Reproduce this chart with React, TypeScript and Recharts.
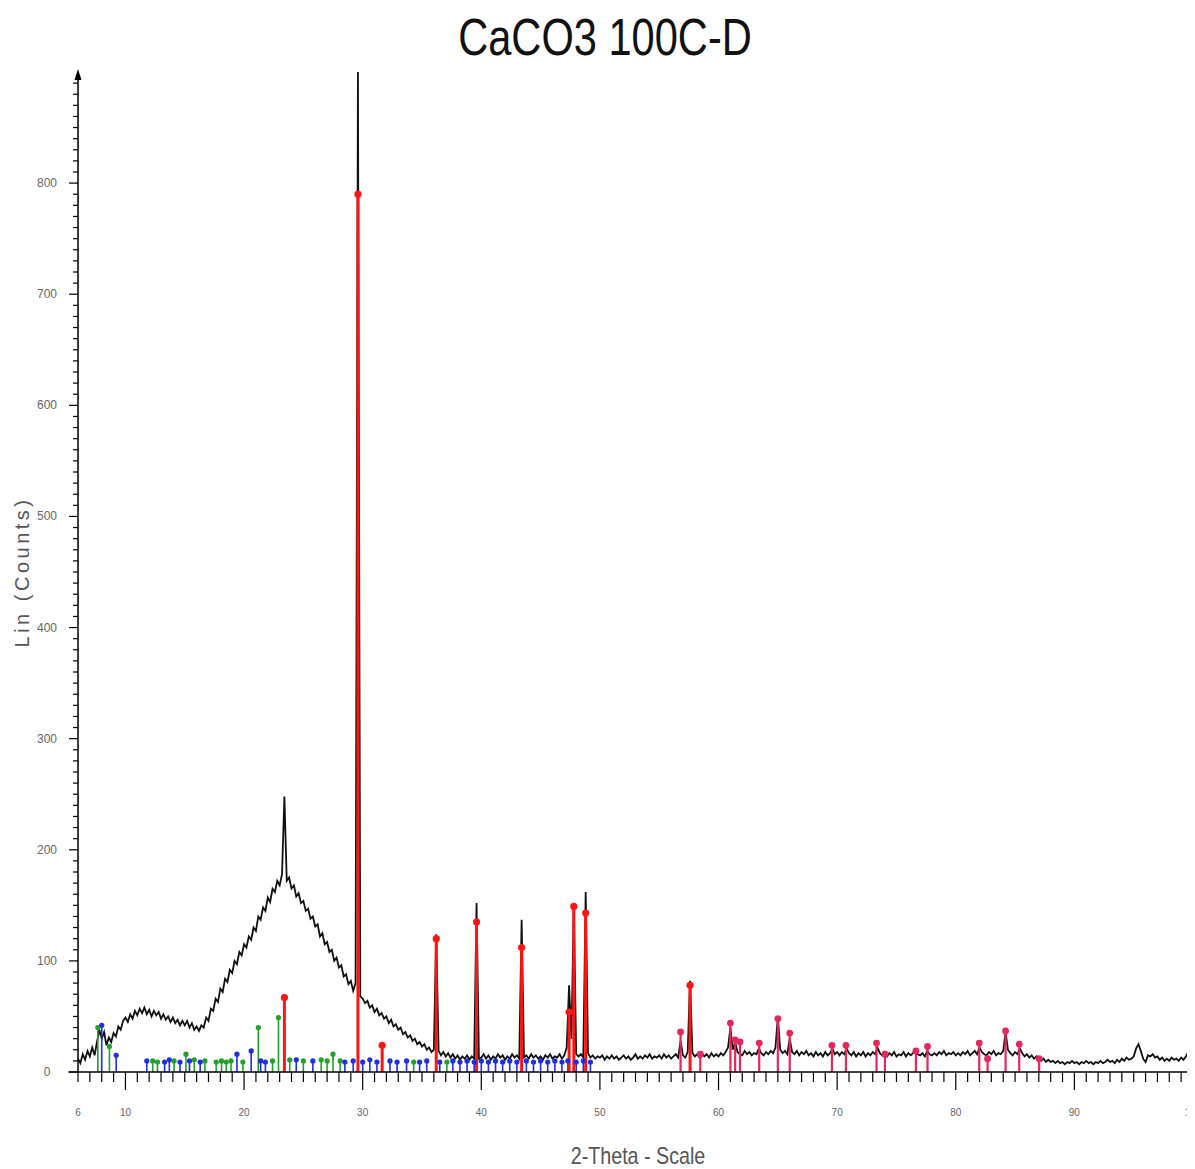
import React from "react";
import { ComposedChart, Line, Scatter, XAxis, YAxis, ReferenceLine, ReferenceDot } from "recharts";

// measured scan, 2-theta grid every 0.2 deg starting at 6.0
const scanStart = 6;
const scanStep = 0.2;
const scan06 = [12, 8, 16, 11, 19, 14, 22, 15, 27, 38, 30, 36, 24, 31, 27, 35, 32, 41, 38, 46];
const scan10 = [
  49, 45, 52, 48, 55, 51, 57, 53, 58, 52, 56, 50, 55, 51, 54, 48, 52, 47, 50, 45,
  49, 44, 47, 42, 46, 42, 46, 40, 44, 38, 41, 37, 42, 40, 49, 46, 57, 55, 66, 63,
  75, 72, 84, 81, 92, 89, 100, 97, 108, 105,
];
const scan20 = [
  115, 112, 122, 119, 130, 127, 140, 137, 148, 145, 157, 153, 165, 162, 172, 168, 178, 248, 172, 175,
  165, 168, 158, 161, 152, 154, 145, 147, 138, 140, 131, 133, 122, 125, 115, 117, 108, 110, 100, 103,
  94, 96, 86, 88, 79, 82, 73, 80, 900, 68,
];
const scan30 = [
  66, 62, 64, 58, 60, 54, 57, 51, 53, 48, 50, 44, 47, 41, 43, 38, 40, 34, 36, 31,
  33, 28, 30, 25, 27, 23, 25, 20, 22, 18, 20, 124, 19, 15, 18, 14, 17, 13, 16, 12,
  15, 11, 14, 12, 15, 11, 14, 12, 152, 12,
];
const scan40 = [
  13, 16, 12, 15, 11, 14, 12, 16, 13, 15, 11, 14, 12, 16, 13, 15, 12, 137, 13, 15,
  12, 16, 13, 15, 12, 14, 11, 15, 13, 16, 12, 14, 13, 16, 12, 15, 22, 78, 30, 150,
  16, 14, 16, 13, 162, 17, 13, 15, 12, 14,
];
const scan50 = [
  13, 15, 11, 14, 12, 15, 12, 14, 11, 13, 15, 12, 14, 11, 13, 16, 12, 14, 12, 15,
  13, 16, 12, 14, 13, 15, 12, 16, 13, 15, 12, 14, 16, 13, 28, 15, 13, 18, 82, 17,
  14, 16, 13, 17, 14, 16, 13, 17, 14, 16,
];
const scan60 = [
  14, 17, 15, 18, 22, 40, 20, 27, 18, 16, 15, 19, 16, 18, 15, 17, 16, 21, 17, 15,
  18, 16, 19, 17, 22, 50, 20, 17, 19, 16, 30, 18, 16, 19, 15, 18, 16, 19, 15, 17,
  14, 18, 15, 17, 14, 18, 15, 17, 21, 16,
];
const scan70 = [
  18, 15, 18, 16, 21, 17, 15, 18, 14, 17, 15, 18, 14, 17, 15, 18, 16, 22, 17, 15,
  18, 14, 17, 15, 18, 14, 16, 15, 18, 14, 17, 15, 17, 20, 16, 15, 17, 14, 19, 16,
  15, 17, 15, 18, 16, 19, 15, 17, 16, 18,
];
const scan80 = [
  15, 17, 15, 18, 16, 19, 15, 17, 19, 16, 22, 18, 16, 15, 18, 16, 19, 15, 17, 16,
  19, 36, 20, 17, 15, 18, 16, 21, 17, 14, 16, 13, 15, 12, 14, 13, 10, 12, 9, 11,
  9, 10, 8, 10, 8, 9, 7, 9, 8, 10,
];
const scan90 = [
  8, 9, 7, 9, 8, 10, 8, 9, 7, 9, 8, 10, 8, 9, 11, 9, 10, 8, 11, 9,
  12, 10, 13, 11, 12, 14, 21, 25, 19, 12, 9, 15, 14, 16, 13, 14, 11, 13, 10, 12,
  10, 13, 11, 12, 10, 13, 11, 14, 18, 16, 12,
];

// reference pattern sticks (2-theta, height)
const redX = [23.4, 29.6, 31.64, 36.2, 39.6, 43.4, 47.4, 47.8, 48.8, 57.6];
const redY = [67, 790, 24, 120, 135, 112, 54, 149, 143, 78];
const pinkX = [56.8, 58.46, 61.0, 61.4, 61.81, 63.43, 65.0, 66.0, 69.56, 70.74, 73.32, 74.03, 76.64, 77.62, 81.98, 82.68, 84.2, 85.35, 87.03];
const pinkY = [36, 16, 44, 29, 27, 26, 48, 35, 24, 24, 26, 16, 19, 23, 26, 12, 37, 25, 12];
const greenX = [7.67, 8.65, 12.3, 12.7, 14.1, 15.1, 15.8, 16.7, 17.65, 18.1, 18.5, 18.9, 19.9, 21.2, 22.4, 22.9, 23.85, 25.0, 26.5, 27.0, 27.5, 28.1, 34.3, 37.1];
const greenY = [40, 23, 10, 9, 10, 16, 11, 10, 9, 10, 9, 10, 9, 40, 10, 49, 11, 10, 11, 10, 16, 10, 9, 9];
const blueX = [8.0, 9.22, 11.8, 13.3, 13.7, 14.6, 15.4, 16.3, 19.4, 20.6, 21.4, 21.8, 24.4, 25.8, 28.5, 29.2, 30.0, 30.6, 31.2, 32.3, 32.9, 33.7, 34.8, 35.4, 36.5, 37.6, 38.2, 38.8, 39.4, 40.0, 40.6, 41.2, 41.8, 42.4, 43.0, 43.8, 44.4, 45.0, 45.6, 46.2, 46.8, 47.3, 48.0, 48.6, 49.2];
const blueY = [42, 15, 10, 9, 11, 9, 10, 9, 16, 19, 10, 9, 11, 10, 9, 10, 9, 11, 9, 10, 9, 10, 9, 10, 9, 10, 9, 10, 9, 10, 9, 10, 9, 10, 9, 10, 9, 10, 9, 10, 9, 10, 9, 10, 9];

const xTickLabels = [6, 10, 20, 30, 40, 50, 60, 70, 80, 90, 100];
const yTickLabels = [0, 100, 200, 300, 400, 500, 600, 700, 800];

const scanValues = [...scan06, ...scan10, ...scan20, ...scan30, ...scan40, ...scan50, ...scan60, ...scan70, ...scan80, ...scan90];
const scanData = scanValues.map((y, i) => ({ x: Math.round((scanStart + i * scanStep) * 10) / 10, y }));
const pts = (xs: number[], ys: number[]) => xs.map((x, i) => ({ x, y: ys[i] }));
const redPts = pts(redX, redY);
const pinkPts = pts(pinkX, pinkY);
const greenPts = pts(greenX, greenY);
const bluePts = pts(blueX, blueY);

const xMinor: number[] = [];
for (let v = 6; v <= 100; v++) xMinor.push(v);
const yMinor: number[] = [];
for (let v = 0; v <= 890; v += 10) yMinor.push(v);

const RED = "#ff1414";
const PINK = "#e8265c";
const GREEN = "#22a02a";
const BLUE = "#1f2fe0";
const SANS = "'Liberation Sans', Arial, sans-serif";

const XTick = ({ x, y, payload }: any) => {
  const v = payload.value;
  const major = v % 10 === 0;
  return (
    <g>
      <line x1={x} x2={x} y1={y} y2={y + (major ? 18 : 10)} stroke="#000" strokeWidth={1.2} />
      {xTickLabels.includes(v) && (
        <text x={x} y={y + 44} textAnchor="middle" fontSize={10} fill="#666" fontFamily={SANS}>
          {v}
        </text>
      )}
    </g>
  );
};

const YTick = ({ x, y, payload }: any) => {
  const v = payload.value;
  const major = v % 100 === 0;
  return (
    <g>
      <line x1={x - (major ? 9 : 5)} x2={x} y1={y} y2={y} stroke="#000" strokeWidth={1.2} />
      {yTickLabels.includes(v) && (
        <text x={x - 31} y={y + 4} textAnchor="middle" fontSize={12} fill="#666" fontFamily={SANS}>
          {v}
        </text>
      )}
    </g>
  );
};

const dot = (r: number, fill: string) => (p: any) => <circle cx={p.cx} cy={p.cy} r={r} fill={fill} />;

const sticks = (data: { x: number; y: number }[], color: string, w: number, key: string) =>
  data.map((d, i) => (
    <ReferenceLine
      key={key + i}
      segment={[{ x: d.x, y: 0 }, { x: d.x, y: d.y }]}
      stroke={color}
      strokeWidth={w}
    />
  ));

export default function App() {
  return (
    <div style={{ position: "relative", width: 1195, height: 1169, margin: "-8px 0 0 -8px", background: "#fff" }}>
      <div
        style={{
          position: "absolute", left: 605, top: 37, transform: "translate(-50%, -50%) scaleX(0.8)",
          whiteSpace: "nowrap", fontFamily: SANS, fontSize: 52, lineHeight: "52px", color: "#111",
        }}
      >
        CaCO3 100C-D
      </div>
      <div
        style={{
          position: "absolute", left: 22, top: 572, transform: "translate(-50%, -50%) rotate(-90deg)",
          whiteSpace: "nowrap", fontFamily: SANS, fontSize: 20,
          letterSpacing: 3.5, color: "#555",
        }}
      >
        Lin (Counts)
      </div>
      <div
        style={{
          position: "absolute", left: 638, top: 1156, transform: "translate(-50%, -50%) scaleX(0.82)",
          whiteSpace: "nowrap", fontFamily: SANS, fontSize: 24, color: "#555",
        }}
      >
        2-Theta - Scale
      </div>
      <div style={{ position: "absolute", left: 0, top: 0 }}>
        <ComposedChart width={1195} height={1169} margin={{ top: 72, right: 2, bottom: 96, left: 77 }}>
          <XAxis
            type="number" dataKey="x" domain={[6, 100]} ticks={xMinor} interval={0} height={1}
            tickSize={0} tickMargin={0} tickLine={false} tick={<XTick />} allowDataOverflow
            axisLine={{ stroke: "#000", strokeWidth: 1.5 }}
          />
          <YAxis
            type="number" dataKey="y" domain={[0, 900]} ticks={yMinor} interval={0} width={1}
            tickSize={0} tickMargin={0} tickLine={false} tick={<YTick />} allowDataOverflow
            axisLine={{ stroke: "#000", strokeWidth: 1.5 }}
          />
          <Line data={scanData} dataKey="y" stroke="#111" strokeWidth={1.8} dot={false} isAnimationActive={false} type="linear" />
          {sticks(greenPts, GREEN, 1.6, "g")}
          {sticks(bluePts, BLUE, 1.6, "b")}
          {sticks(redPts, RED, 3, "r")}
          {sticks(pinkPts, PINK, 2.2, "p")}
          <Scatter data={greenPts} dataKey="y" shape={dot(2.6, GREEN)} isAnimationActive={false} />
          <Scatter data={bluePts} dataKey="y" shape={dot(2.6, BLUE)} isAnimationActive={false} />
          <Scatter data={redPts} dataKey="y" shape={dot(3.6, RED)} isAnimationActive={false} />
          <Scatter data={pinkPts} dataKey="y" shape={dot(3.4, PINK)} isAnimationActive={false} />
          <ReferenceLine segment={[{ x: 5.2, y: 0 }, { x: 6, y: 0 }]} stroke="#000" strokeWidth={1.5} ifOverflow="visible" />
          <ReferenceDot
            x={6} y={900} ifOverflow="visible"
            shape={(p: any) => <polygon points={`${p.cx},${p.cy - 3} ${p.cx - 3.5},${p.cy + 8} ${p.cx + 3.5},${p.cy + 8}`} fill="#000" />}
          />
        </ComposedChart>
      </div>
    </div>
  );
}
